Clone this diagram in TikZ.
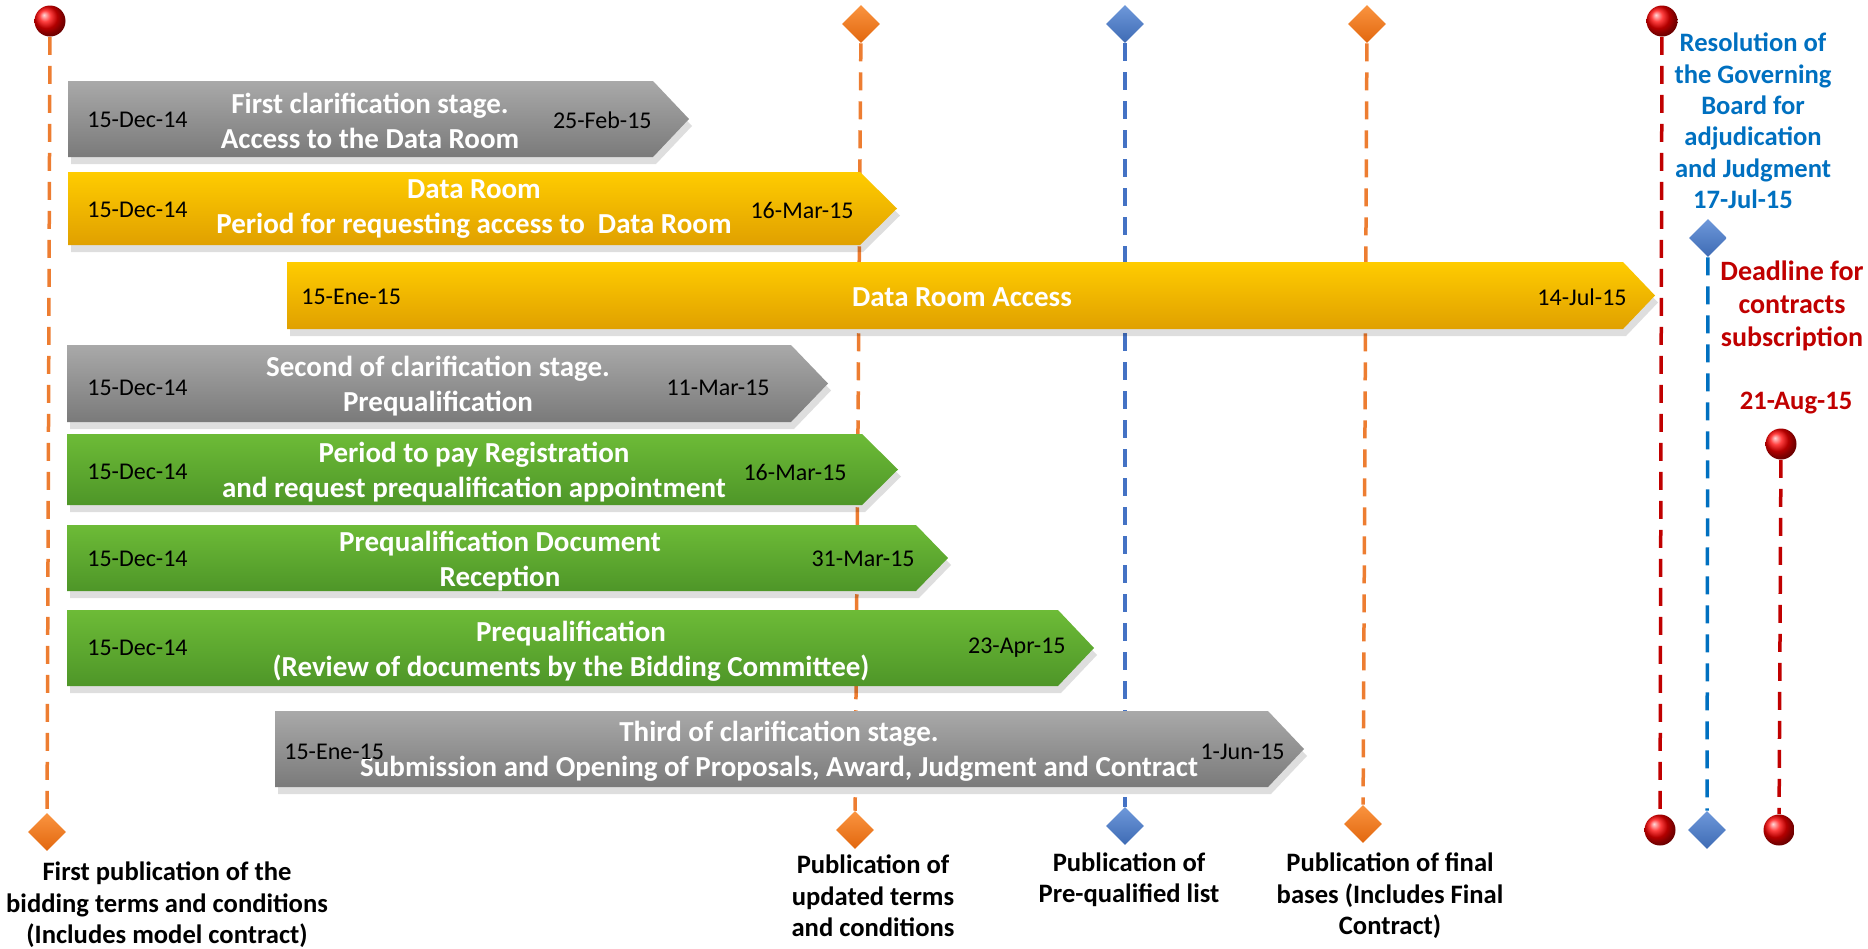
\documentclass[tikz,border=0pt]{standalone}
\usepackage{fontspec}
\setmainfont{Carlito}
\usetikzlibrary{shapes.geometric}
\definecolor{lnorange}{HTML}{ED7D31}
\definecolor{lnblue}{HTML}{4472C4}
\definecolor{lnblue2}{HTML}{0070C0}
\definecolor{lnred}{HTML}{C00000}
\definecolor{grayT}{HTML}{A9A9A9}
\definecolor{grayB}{HTML}{7A7A7A}
\definecolor{yelT}{HTML}{FFCC00}
\definecolor{yelB}{HTML}{E0A000}
\definecolor{grnT}{HTML}{6DBB37}
\definecolor{grnB}{HTML}{4E9628}
\definecolor{txtblue}{HTML}{0070C0}
\definecolor{txtred}{HTML}{C00000}
\definecolor{odiaT}{HTML}{FA9440}
\definecolor{odiaB}{HTML}{E2670E}
\definecolor{bdiaT}{HTML}{6E98DA}
\definecolor{bdiaB}{HTML}{3E6BB4}
\newcommand{\barshape}[5]{(#1,#2) -- (#4,#2) -- (#5,{(#2+#3)/2}) -- (#4,#3) -- (#1,#3) -- cycle}
\begin{document}
\begin{tikzpicture}[x=0.5pt,y=-0.5pt,
  ballmark/.style={circle,inner sep=0pt,minimum size=15.5pt,shading=ball,ball color=red},
  diamark/.style={diamond,aspect=1,inner sep=0pt,minimum width=19pt,minimum height=19pt},
  odia/.style={diamark,top color=odiaT,bottom color=odiaB},
  bdia/.style={diamark,top color=bdiaT,bottom color=bdiaB},
  dline/.style={line width=1.75pt,dash pattern=on 9pt off 5.5pt},
  shadowbar/.style={fill=black,opacity=0.13},
  graybar/.style={top color=grayT,bottom color=grayB},
  yelbar/.style={top color=yelT,bottom color=yelB},
  grnbar/.style={top color=grnT,bottom color=grnB},
  barlabel/.style={text=white,font=\fontsize{14.5}{17.5}\selectfont\bfseries,align=center,inner sep=0pt},
  datel/.style={text=black,font=\fontsize{12}{14}\selectfont,inner sep=0pt,anchor=west},
  dater/.style={text=black,font=\fontsize{12}{14}\selectfont,inner sep=0pt,anchor=east},
  sidelabel/.style={font=\fontsize{13.3}{15.7}\selectfont\bfseries,align=center,inner sep=0pt}]
\useasboundingbox (0,0) rectangle (1868,948);
% markers
\node[ballmark] (m1t) at (50,21) {};
\node[odia] (m1b) at (47,832) {};
\node[odia] (m2t) at (861,24) {};
\node[odia] (m2b) at (855,830) {};
\node[bdia] (m3t) at (1125,24) {};
\node[bdia] (m3b) at (1125,826) {};
\node[odia] (m4t) at (1367,24) {};
\node[odia] (m4b) at (1363,824) {};
\node[ballmark] (m5t) at (1662,21) {};
\node[ballmark] (m5b) at (1660,830) {};
\node[bdia] (m6t) at (1708,238) {};
\node[bdia] (m6b) at (1707,830) {};
\node[ballmark] (m7t) at (1781,444) {};
\node[ballmark] (m7b) at (1779,830) {};
% dashed connectors
\draw[dline,lnorange] (m1t) -- (m1b);
\draw[dline,lnorange] (m2t) -- (m2b);
\draw[dline,lnblue] (m3t) -- (m3b);
\draw[dline,lnorange] (m4t) -- (m4b);
\draw[dline,lnred] (m5t) -- (m5b);
\draw[dline,lnblue2] (m6t) -- (m6b);
\draw[dline,lnred] (m7t) -- (m7b);
% bars
\begin{scope}[shift={(3,7)}]
\fill[shadowbar] \barshape{68}{81}{157}{653}{689};
\fill[shadowbar] \barshape{68}{172}{245}{860}{897};
\fill[shadowbar] \barshape{287}{262}{329}{1623}{1655};
\fill[shadowbar] \barshape{67}{345}{422}{791}{828};
\fill[shadowbar] \barshape{67}{434}{505}{862}{898};
\fill[shadowbar] \barshape{67}{525}{591}{916}{948};
\fill[shadowbar] \barshape{67}{610}{686}{1058}{1094};
\fill[shadowbar] \barshape{275}{711}{787}{1268}{1304};
\end{scope}
\shade[graybar] \barshape{68}{81}{157}{653}{689};
\shade[yelbar] \barshape{68}{172}{245}{860}{897};
\shade[yelbar] \barshape{287}{262}{329}{1623}{1655};
\shade[graybar] \barshape{67}{345}{422}{791}{828};
\shade[grnbar] \barshape{67}{434}{505}{862}{898};
\shade[grnbar] \barshape{67}{525}{591}{916}{948};
\shade[grnbar] \barshape{67}{610}{686}{1058}{1094};
\shade[graybar] \barshape{275}{711}{787}{1268}{1304};
% bar labels
\node[barlabel] (b1) at (370,121) {First clarification stage.\\Access to the Data Room};
\node[barlabel] (b2) at (474,209) {Data Room\\Period for requesting access to\ \ Data Room};
\node[barlabel] (b3) at (962,297) {Data Room Access};
\node[barlabel] (b4) at (438,386) {Second of clarification stage.\\Prequalification};
\node[barlabel] (b5) at (474,472) {Period to pay Registration\\and request prequalification appointment};
\node[barlabel] (b6) at (500,561) {Prequalification Document\\Reception};
\node[barlabel] (b7) at (571,651) {Prequalification\\(Review of documents by the Bidding Committee)};
\node[barlabel] (b8) at (779,751) {Third of clarification stage.\\Submission and Opening of Proposals, Award, Judgment and Contract};
% dates
\node[datel] (d1a) at (87,120) {15-Dec-14};
\node[dater] (d1b) at (652,120) {25-Feb-15};
\node[datel] (d2a) at (87,210) {15-Dec-14};
\node[dater] (d2b) at (854,210) {16-Mar-15};
\node[datel] (d3a) at (301,297) {15-Ene-15};
\node[dater] (d3b) at (1627,297) {14-Jul-15};
\node[datel] (d4a) at (87,388) {15-Dec-14};
\node[dater] (d4b) at (770,388) {11-Mar-15};
\node[datel] (d5a) at (87,472) {15-Dec-14};
\node[dater] (d5b) at (847,472) {16-Mar-15};
\node[datel] (d6a) at (87,559) {15-Dec-14};
\node[dater] (d6b) at (915,559) {31-Mar-15};
\node[datel] (d7a) at (87,648) {15-Dec-14};
\node[dater] (d7b) at (1066,648) {23-Apr-15};
\node[datel] (d8a) at (284,752) {15-Ene-15};
\node[dater] (d8b) at (1285,752) {1-Jun-15};
% bottom labels
\node[sidelabel] (l1) at (167,905) {First publication of the\\bidding terms and conditions\\(Includes model contract)};
\node[sidelabel] (l2) at (873,896) {Publication of\\updated terms\\and conditions};
\node[sidelabel] (l3) at (1129,880) {Publication of\\Pre-qualified list};
\node[sidelabel] (l4) at (1390,896) {Publication of final\\bases (Includes Final\\Contract)};
% right labels
\node[sidelabel,text=txtblue] (r1) at (1753,121) {Resolution of\\the Governing\\Board for\\adjudication\\and Judgment\\17-Jul-15\hspace*{10pt}};
\node[sidelabel,text=txtred,font=\fontsize{14}{16.5}\selectfont\bfseries] (r2) at (1792,306) {Deadline for\\contracts\\subscription};
\node[sidelabel,text=txtred] (r3) at (1796,403) {21-Aug-15};
\end{tikzpicture}
\end{document}
